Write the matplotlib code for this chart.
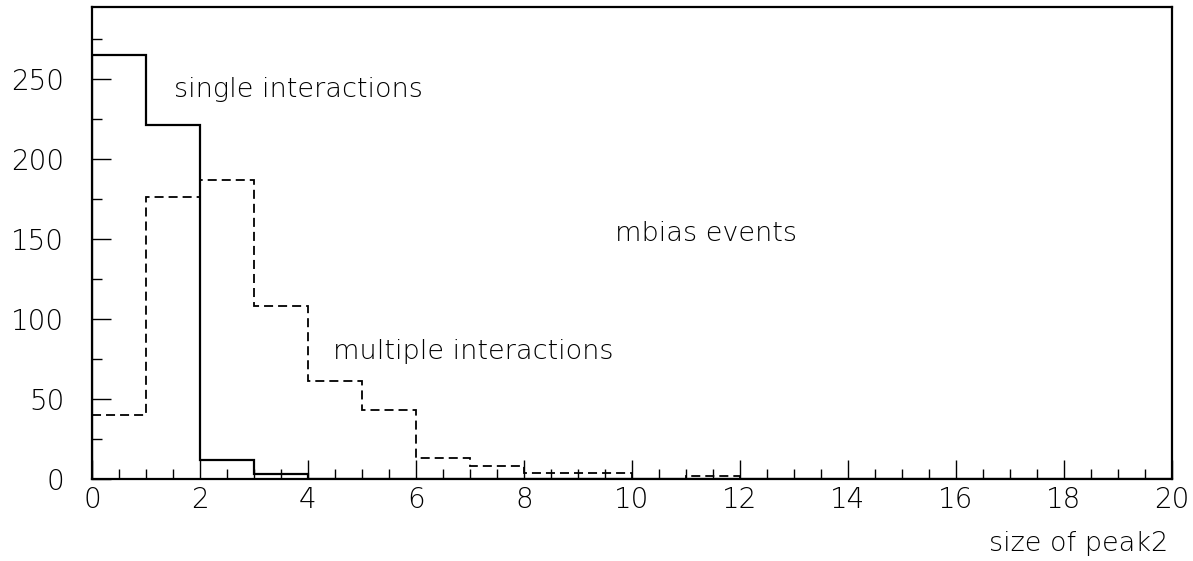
import numpy as np
import matplotlib
matplotlib.use("Agg")
import matplotlib.pyplot as plt
from matplotlib.ticker import MultipleLocator

plt.rcParams["font.family"] = ["DejaVu Sans"]
plt.rcParams["font.weight"] = "light"
plt.rcParams["lines.scale_dashes"] = False

# ----- histogram contents (unit bins from 0 to 20) -----
bin_edges = np.arange(0, 21, 1)
single = [265, 221, 12, 3, 0, 0, 0, 0, 0, 0, 0, 0, 0, 0, 0, 0, 0, 0, 0, 0]
multiple = [40, 176, 187, 108, 61, 43, 13, 8, 4, 4, 0, 2, 0, 0, 0, 0, 0, 0, 0, 0]

x_ticks = [0, 2, 4, 6, 8, 10, 12, 14, 16, 18, 20]
y_ticks = [0, 50, 100, 150, 200, 250]

fig = plt.figure(figsize=(11.93, 5.61), dpi=100)
ax = fig.add_axes([0.0771, 0.1462, 0.9053, 0.8413])

ax.stairs(single, bin_edges, baseline=0, color="black", lw=1.6)
ax.stairs(multiple, bin_edges, baseline=None, color="black", lw=1.3,
          linestyle=(0, (6.5, 3.6)))

ax.set_xlim(0, 20)
ax.set_ylim(0, 295)

ax.set_xticks(x_ticks)
ax.set_yticks(y_ticks)
ax.xaxis.set_minor_locator(MultipleLocator(0.5))
ax.yaxis.set_minor_locator(MultipleLocator(25))
ax.tick_params(which="both", direction="in", labelsize=20, width=1.0,
               top=False, right=False, labelcolor="black")
ax.tick_params(which="major", length=14)
ax.tick_params(which="minor", length=7)
ax.tick_params(axis="x", pad=5)
ax.tick_params(axis="y", pad=20)
for s in ax.spines.values():
    s.set_linewidth(1.6)

txt = dict(fontsize=19.5, color="black")
ax.text(1.52, 239, "single interactions", **txt)
ax.text(4.46, 75, "multiple interactions", **txt)
ax.text(9.69, 149, "mbias events", **txt)
fig.text(0.979, 0.018, "size of peak2", ha="right", **txt)

fig.savefig("out.png", dpi=100)
